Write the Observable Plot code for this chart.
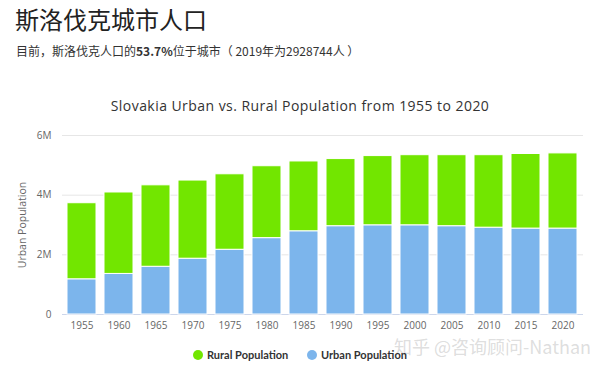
<!DOCTYPE html>
<html>
<head>
<meta charset="utf-8">
<script src="https://cdn.jsdelivr.net/npm/d3@7"></script>
<script src="https://cdn.jsdelivr.net/npm/@observablehq/plot@0.6"></script>
<style>
  html, body { margin: 0; padding: 0; background: #fff; }
  #wrap { position: relative; width: 610px; height: 369px; overflow: hidden; background: #fff; }
  #title { position: absolute; left: 15px; top: 7px; font: 24px/1 "Noto Sans CJK SC", sans-serif; color: #222; white-space: nowrap; }
  #subtitle { position: absolute; left: 16px; top: 45px; font: 12px/1 "Noto Sans CJK SC", sans-serif; color: #333; white-space: nowrap; }
  #subtitle b { font-weight: 700; }
  #ctitle { position: absolute; left: 0; width: 600px; top: 99px; text-align: center; font: 14px/1 "Open Sans", sans-serif; color: #333; letter-spacing: 0.45px; white-space: nowrap; }
  #chart { position: absolute; left: 0; top: 65px; }
  #legend { position: absolute; top: 348px; left: 0; width: 610px; font: bold 11px/14px Lato, sans-serif; color: #333; }
  .item { position: absolute; top: 0; white-space: nowrap; }
  .dot { display: inline-block; width: 10px; height: 10px; border-radius: 50%; vertical-align: -1px; margin-right: 4px; }
  #wm { position: absolute; left: 394px; top: 337px; font: 18px/1 "Noto Sans CJK SC", sans-serif; color: rgba(170,170,170,0.4); white-space: nowrap; }
</style>
</head>
<body>
<div id="wrap">
  <div id="title"></div>
  <div id="subtitle"></div>
  <div id="ctitle"></div>
  <div id="chart"></div>
  <div id="wm"></div>
  <div id="legend"></div>
</div>
<script>
const pageTitle = "斯洛伐克城市人口";
const subtitleParts = ["目前，斯洛伐克人口的", "53.7%", "位于城市（ 2019年为2928744人 ）"];
const chartTitle = "Slovakia Urban vs. Rural Population from 1955 to 2020";
const yLabel = "Urban Population";
const watermark = "知乎 @咨询顾问-Nathan";

const years = [1955, 1960, 1965, 1970, 1975, 1980, 1985, 1990, 1995, 2000, 2005, 2010, 2015, 2020];
// millions of people
const urban = [1.18, 1.36, 1.60, 1.87, 2.17, 2.56, 2.79, 2.96, 2.99, 2.99, 2.96, 2.91, 2.88, 2.88];
const rural = [2.55, 2.73, 2.73, 2.62, 2.53, 2.41, 2.34, 2.25, 2.32, 2.35, 2.38, 2.43, 2.50, 2.52];

const seriesNames = ["Urban Population", "Rural Population"];
const legendNames = ["Rural Population", "Urban Population"];
const seriesColors = ["#7cb5ec", "#72e600"];

const yTicks = [0, 2, 4, 6];
const yTickLabels = ["0", "2M", "4M", "6M"];

document.getElementById("title").textContent = pageTitle;
const st = document.getElementById("subtitle");
st.append(subtitleParts[0]);
const b = document.createElement("b"); b.textContent = subtitleParts[1]; st.append(b);
st.append(subtitleParts[2]);
document.getElementById("ctitle").textContent = chartTitle;
document.getElementById("wm").textContent = watermark;

const table = [];
years.forEach((y, i) => {
  table.push({year: y, series: seriesNames[0], value: urban[i]});
  table.push({year: y, series: seriesNames[1], value: rural[i]});
});

const chart = Plot.plot({
  width: 610,
  height: 275,
  marginLeft: 62,
  marginRight: 27,
  marginTop: 70,
  marginBottom: 26,
  style: {fontFamily: "'Open Sans', sans-serif", fontSize: "10px", color: "#666", background: "transparent"},
  x: {type: "band", domain: years, paddingInner: 0.213, paddingOuter: 0.107, label: null},
  y: {domain: [0, 6], label: null},
  color: {domain: seriesNames, range: seriesColors},
  marks: [
    Plot.gridY(yTicks.slice(1), {stroke: "#e6e6e6", strokeOpacity: 1}),
    Plot.ruleY([0], {stroke: "#ccd6eb"}),
    Plot.barY(table, {x: "year", y: "value", fill: "series", stroke: "white", strokeWidth: 1, order: seriesNames}),
    Plot.axisX({tickSize: 0, tickPadding: 7, label: null, tickFormat: d => String(d)}),
    Plot.axisY(yTicks, {tickSize: 0, tickPadding: 11, label: null, tickFormat: d => yTickLabels[yTicks.indexOf(d)]}),
    Plot.text([yLabel], {frameAnchor: "left", dx: -40, rotate: -90, textAnchor: "middle", fontSize: 10.5, fill: "#666"})
  ]
});
document.getElementById("chart").append(chart);

const legend = document.getElementById("legend");
const lx = [193, 307];
legendNames.forEach((name, i) => {
  const it = document.createElement("div");
  it.className = "item";
  it.style.left = lx[i] + "px";
  const d = document.createElement("span");
  d.className = "dot";
  d.style.background = seriesColors[seriesNames.indexOf(name)];
  it.append(d, name);
  legend.append(it);
});
</script>
</body>
</html>
